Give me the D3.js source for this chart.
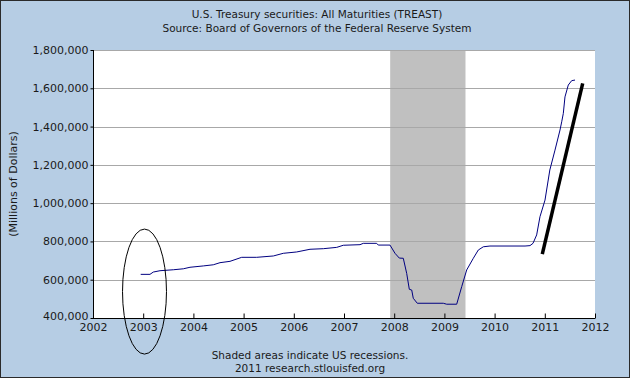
<!DOCTYPE html>
<html>
<head>
<meta charset="utf-8">
<script src="https://cdn.jsdelivr.net/npm/d3@7"></script>
<style>
html,body{margin:0;padding:0;background:#b6cde4;}
svg{display:block;}
text{font-family:"DejaVu Sans",Verdana,sans-serif;fill:#1a1a1a;}
</style>
</head>
<body>
<svg id="chart" width="630" height="378"></svg>
<script>
// Series: decimal year, millions of dollars
const dates = [2002.95,2003.135,2003.201,2003.335,2003.600,2003.799,2003.932,2004.197,2004.396,2004.530,2004.729,2004.962,2005.261,2005.592,2005.791,2006.058,2006.323,2006.588,2006.855,2006.986,2007.319,2007.384,2007.651,2007.683,2007.916,2008.016,2008.102,2008.181,2008.249,2008.301,2008.349,2008.380,2008.460,2008.978,2009.046,2009.245,2009.345,2009.444,2009.576,2009.675,2009.775,2009.908,2010.606,2010.705,2010.765,2010.838,2010.904,2011.004,2011.100,2011.203,2011.303,2011.337,2011.369,2011.402,2011.468,2011.536,2011.602];
const values = [628000,628000,640000,647000,652000,657000,665000,672000,678000,689000,696000,717000,717000,724000,738000,745000,759000,762000,769000,780000,783000,790000,790000,781000,781000,738000,713000,712000,633000,550000,546000,503000,477000,477000,472000,472000,564000,651000,712000,755000,772000,776000,776000,778000,790000,834000,929000,1016000,1173000,1277000,1382000,1425000,1469000,1555000,1617000,1640000,1643000];
const recessionStart = [2007.92];
const recessionEnd = [2009.42];
const yTicks = [400000,600000,800000,1000000,1200000,1400000,1600000,1800000];
const xTicks = [2002,2003,2004,2005,2006,2007,2008,2009,2010,2011,2012];
// hand-drawn annotations (data coordinates)
const trendDates = [2010.950, 2011.755];
const trendValues = [734000, 1626000];
const ellipseCenter = [2003.026, 538000];
const ellipseRadius = [0.438, 326500];

const titleLines = ["U.S. Treasury securities: All Maturities (TREAST)","Source: Board of Governors of the Federal Reserve System"];
const footerLines = ["Shaded areas indicate US recessions.","2011 research.stlouisfed.org"];
const yTitle = "(Millions of Dollars)";

const W = 630, H = 378;
const m = {left:93, top:50, right:35, bottom:60};
const pw = W - m.left - m.right, ph = H - m.top - m.bottom;

const svg = d3.select("#chart");
svg.append("rect").attr("x",0.5).attr("y",0.5).attr("width",W-1).attr("height",H-1)
  .attr("fill","#b6cde4").attr("stroke","#2a2a2a");

const x = d3.scaleLinear().domain([2002,2012]).range([0,pw]);
const y = d3.scaleLinear().domain([400000,1800000]).range([ph,0]);

const g = svg.append("g").attr("transform",`translate(${m.left},${m.top})`);
g.append("rect").attr("width",pw).attr("height",ph).attr("fill","#ffffff");

// recession shading
g.selectAll(".rec").data(recessionStart).enter().append("rect")
  .attr("x",(d)=>x(d)).attr("y",0)
  .attr("width",(d,i)=>x(recessionEnd[i])-x(d)).attr("height",ph)
  .attr("fill","#c0c0c0");

// gridlines
g.selectAll(".grid").data(yTicks.slice(1)).enter().append("line")
  .attr("x1",0).attr("x2",pw).attr("y1",d=>Math.round(y(d))+0.5).attr("y2",d=>Math.round(y(d))+0.5)
  .attr("stroke","#a8a8a8").attr("stroke-width",1);

// y axis
const yAxis = d3.axisLeft(y).tickValues(yTicks).tickSize(3).tickPadding(2).tickFormat(d3.format(","));
const ya = g.append("g").attr("transform","translate(0.5,0)").call(yAxis);
ya.select(".domain").remove();
ya.selectAll("text").attr("font-size",11).style("font-family","DejaVu Sans").attr("fill","#1a1a1a");
ya.selectAll(".tick").filter(d=>d===400000).select("text").attr("dy","0.1em");
ya.selectAll("line").attr("stroke","#000");
g.append("line").attr("x1",0.5).attr("x2",0.5).attr("y1",0).attr("y2",ph).attr("stroke","#000");

// x axis
const xAxis = d3.axisBottom(x).tickValues(xTicks).tickSize(-5).tickPadding(5).tickFormat(d3.format("d"));
const xa = g.append("g").attr("transform",`translate(0,${ph+0.5})`).call(xAxis);
xa.select(".domain").remove();
xa.selectAll("text").attr("font-size",11).style("font-family","DejaVu Sans").attr("fill","#1a1a1a").attr("dy","0.71em");
xa.selectAll("line").attr("stroke","#000");
g.append("line").attr("x1",0).attr("x2",pw).attr("y1",ph+0.5).attr("y2",ph+0.5).attr("stroke","#000");

// series
const pts = dates.map((d,i)=>[d,values[i]]);
const line = d3.line().x(d=>x(d[0])).y(d=>y(d[1]));
g.append("path").datum(pts).attr("d",line).attr("fill","none")
  .attr("stroke","#000080").attr("stroke-width",1);

// annotations
const tpts = trendDates.map((d,i)=>[d,trendValues[i]]);
g.append("path").datum(tpts).attr("d",line).attr("fill","none")
  .attr("stroke","#000").attr("stroke-width",3.5);
svg.append("ellipse")
  .attr("cx",m.left+x(ellipseCenter[0])).attr("cy",m.top+y(ellipseCenter[1]))
  .attr("rx",x(2002+ellipseRadius[0])-x(2002)).attr("ry",y(400000)-y(400000+ellipseRadius[1]))
  .attr("fill","none").attr("stroke","#000").attr("stroke-width",1);

// titles
svg.selectAll(".title").data(titleLines).enter().append("text")
  .attr("x",317).attr("y",(d,i)=>18+i*14).attr("text-anchor","middle")
  .attr("font-size",10.5).text(d=>d);
svg.selectAll(".footer").data(footerLines).enter().append("text")
  .attr("x",310).attr("y",(d,i)=>359+i*13).attr("text-anchor","middle")
  .attr("font-size",10.5).text(d=>d);
svg.append("text").attr("transform",`translate(17,${m.top+ph/2}) rotate(-90)`)
  .attr("text-anchor","middle").attr("font-size",11).text(yTitle);
</script>
</body>
</html>
